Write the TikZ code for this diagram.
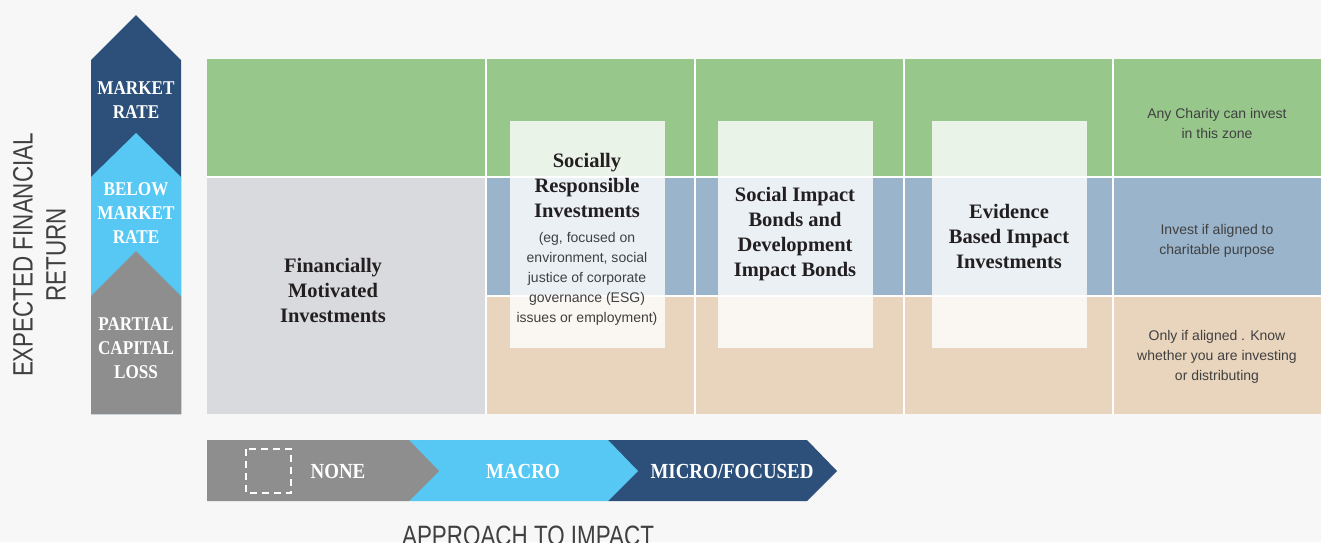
\documentclass[tikz,border=0pt]{standalone}
\usepackage{fontspec}
\setmainfont{Liberation Sans}
\newfontfamily\levelfont[FakeStretch=0.88]{Liberation Serif}
\newfontfamily\titlefont{Liberation Serif}
\newfontfamily\axisfont[FakeStretch=0.8]{Liberation Sans}
\usetikzlibrary{positioning}

\definecolor{bgGray}{HTML}{F7F7F7}
\definecolor{zoneGreen}{HTML}{98C78C}
\definecolor{zoneBlue}{HTML}{9AB4CC}
\definecolor{zoneTan}{HTML}{E9D5BD}
\definecolor{cellGray}{HTML}{D9DADE}
\definecolor{darkNavy}{HTML}{2C5079}
\definecolor{skyBlue}{HTML}{56C8F3}
\definecolor{midGray}{HTML}{8E8E8E}
\definecolor{inkDark}{HTML}{231F20}
\definecolor{inkSoft}{HTML}{404040}

\tikzset{
  levellabel/.style={text=white, align=center,
    font=\levelfont\bfseries\fontsize{19.5}{24}\selectfont},
  approachlabel/.style={text=white,
    font=\levelfont\bfseries\fontsize{21.5}{24}\selectfont},
  zonetitle/.style={text=inkDark, align=center,
    font=\titlefont\bfseries\fontsize{20.5}{25}\selectfont},
  zonenote/.style={text=inkSoft, align=center,
    font=\fontsize{14}{20}\selectfont},
  axislabel/.style={text=inkSoft, align=center,
    font=\axisfont\fontsize{28}{33}\selectfont},
  glassbox/.style={fill=white, fill opacity=0.8},
  divider/.style={white, line width=1.5pt}
}

\begin{document}
\begin{tikzpicture}[x=1pt, y=-1pt]
  \fill [bgGray] (0,0) rectangle (1321,542);
  \useasboundingbox (0,0) rectangle (1321,542);

  \fill [darkNavy] (91,414) -- (91,60) -- (136,15) -- (181,60) -- (181,414) -- cycle;
  \fill [skyBlue] (91,414) -- (91,177) -- (136,133) -- (181,177) -- (181,414) -- cycle;
  \fill [midGray] (91,414) -- (91,296) -- (136,251) -- (181,296) -- (181,414) -- cycle;
  \node (marketrate) at (136,100) [levellabel] {MARKET\\RATE};
  \node (belowrate) at (136,213) [levellabel] {BELOW\\MARKET\\RATE};
  \node (capitalloss) at (136,348) [levellabel] {PARTIAL\\CAPITAL\\LOSS};
  \node (returnaxis) at (39.5,255) [axislabel, rotate=90] {EXPECTED FINANCIAL\\RETURN};

  \fill [zoneGreen] (207,59) rectangle (1321,177);
  \fill [zoneBlue] (486,177) rectangle (1321,296);
  \fill [zoneTan] (486,296) rectangle (1321,414);
  \fill [cellGray] (207,177) rectangle (486,414);
  \draw [divider] (207,177) -- (1321,177);
  \draw [divider] (486,296) -- (1321,296);
  \foreach \x in {486,695,904,1113}
    \draw [divider] (\x,59) -- (\x,414);

  \fill [glassbox] (510,121) rectangle (665,348);
  \fill [glassbox] (718,121) rectangle (873,348);
  \fill [glassbox] (932,121) rectangle (1087,348);

  \node (financial) at (333,290) [zonetitle] {Financially\\Motivated\\Investments};
  \node (sri) at (587,185) [zonetitle] {Socially\\Responsible\\Investments};
  \node (srinote) at (587,279) [zonenote] {(eg, focused on\\environment, social\\justice of corporate\\governance (ESG)\\issues or employment)};
  \node (bonds) at (795,234.5) [zonetitle] {Social Impact\\Bonds and\\Development\\Impact Bonds};
  \node (evidence) at (1009,236) [zonetitle] {Evidence\\Based Impact\\Investments};
  \node (anyzone) at (1217,123) [zonenote] {Any Charity can invest\\in this zone};
  \node (alignedzone) at (1217,241) [zonenote] {Invest if aligned to\\charitable purpose};
  \node (onlyzone) at (1217,357) [zonenote] {Only if aligned . Know\\whether you are investing\\or distributing};

  \fill [darkNavy] (608,440) -- (807,440) -- (837,471) -- (807,501) -- (608,501) -- cycle;
  \fill [skyBlue] (409,440) -- (608,440) -- (638,471) -- (608,501) -- (409,501) -- cycle;
  \fill [midGray] (207,440) -- (409,440) -- (439,471) -- (409,501) -- (207,501) -- cycle;
  \draw [white, line width=2pt, dash pattern=on 7pt off 5pt] (246,449) rectangle (291,493);
  \node (none) at (338,471) [approachlabel] {NONE};
  \node (macro) at (523,471) [approachlabel] {MACRO};
  \node (micro) at (732,471) [approachlabel] {MICRO/FOCUSED};
  \node (impactaxis) at (528,545) [axislabel, anchor=base] {APPROACH TO IMPACT};
\end{tikzpicture}
\end{document}
